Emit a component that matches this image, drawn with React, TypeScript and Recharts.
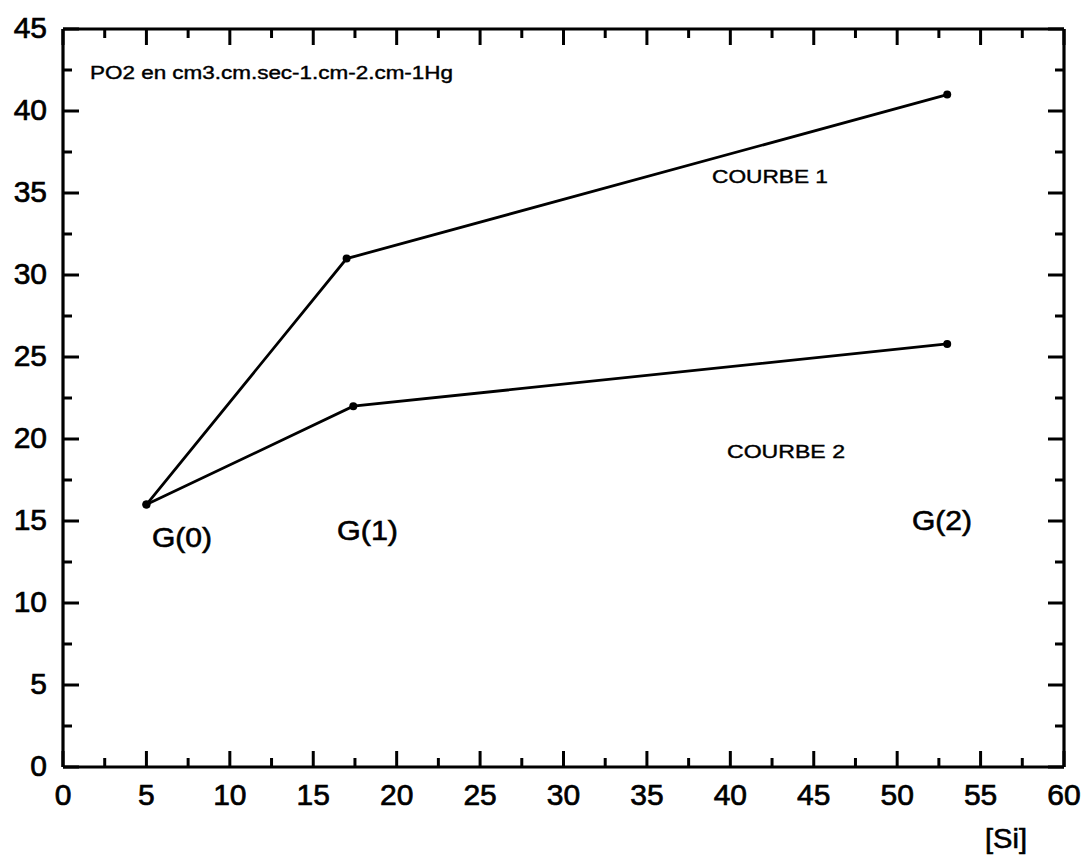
import React from "react";
import { LineChart, Line, XAxis, YAxis } from "recharts";

const courbe1 = [
  { x: 5, y: 16 },
  { x: 17, y: 31 },
  { x: 53, y: 41 },
];
const courbe2 = [
  { x: 5, y: 16 },
  { x: 17.4, y: 22 },
  { x: 53, y: 25.8 },
];

const xTicks = [0, 2.5, 5, 7.5, 10, 12.5, 15, 17.5, 20, 22.5, 25, 27.5, 30, 32.5, 35, 37.5, 40, 42.5, 45, 47.5, 50, 52.5, 55, 57.5, 60];
const yTicks = [0, 2.5, 5, 7.5, 10, 12.5, 15, 17.5, 20, 22.5, 25, 27.5, 30, 32.5, 35, 37.5, 40, 42.5, 45];

const W = 1084;
const H = 858;
const MARGIN = { top: 9, right: 0, bottom: 31, left: 3 };
const TOP_AXIS_H = 20;
const BOTTOM_AXIS_H = 60;
const LEFT_AXIS_W = 60;
const RIGHT_AXIS_W = 20;
const PLOT_W = W - MARGIN.left - MARGIN.right - LEFT_AXIS_W - RIGHT_AXIS_W;
const PLOT_H = H - MARGIN.top - MARGIN.bottom - TOP_AXIS_H - BOTTOM_AXIS_H;

const FONT = "'Liberation Sans', Arial, Helvetica, sans-serif";
const MAJOR = 16;
const MINOR = 9;
const TICK_W = 3;

const isMajor = (v: number) => Math.abs(v % 5) < 1e-9;

// Bottom axis: inward ticks at bottom and mirrored inward ticks at top
const BottomTick = (props: any) => {
  const { x, y, payload } = props;
  const v = payload.value;
  const len = isMajor(v) ? MAJOR : MINOR;
  const yTop = y - PLOT_H;
  return (
    <g>
      <line x1={x} x2={x} y1={y} y2={y - len} stroke="#000" strokeWidth={TICK_W} />
      <line x1={x} x2={x} y1={yTop} y2={yTop + len} stroke="#000" strokeWidth={TICK_W} />
      {isMajor(v) && (
        <text x={x} y={y + 38} textAnchor="middle" fontSize={30} fontFamily={FONT} fill="#000" stroke="#000" strokeWidth={0.7}>
          {v}
        </text>
      )}
    </g>
  );
};

// Left axis: inward ticks at left and mirrored inward ticks at right
const LeftTick = (props: any) => {
  const { x, y, payload } = props;
  const v = payload.value;
  const len = isMajor(v) ? MAJOR : MINOR;
  const xRight = x + PLOT_W;
  return (
    <g>
      <line x1={x} x2={x + len} y1={y} y2={y} stroke="#000" strokeWidth={TICK_W} />
      <line x1={xRight} x2={xRight - len} y1={y} y2={y} stroke="#000" strokeWidth={TICK_W} />
      {isMajor(v) && (
        <text x={x - 16} y={y + 9} textAnchor="end" fontSize={30} fontFamily={FONT} fill="#000" stroke="#000" strokeWidth={0.7}>
          {v}
        </text>
      )}
    </g>
  );
};

const axisLine = { stroke: "#000", strokeWidth: 3.2 };
const dot = { r: 4, fill: "#000", stroke: "#000", strokeWidth: 0 };

export default function App() {
  return (
    <div style={{ position: "absolute", left: 0, top: 0, width: W, height: H, background: "#fff", fontFamily: FONT }}>
      <LineChart width={W} height={H} margin={MARGIN}>
        <XAxis dataKey="x" type="number" domain={[0, 60]} ticks={xTicks} interval={0} height={BOTTOM_AXIS_H} tickSize={0} tickMargin={0} tickLine={false} axisLine={axisLine} tick={BottomTick} />
        <XAxis xAxisId="top" orientation="top" type="number" domain={[0, 60]} height={TOP_AXIS_H} tickLine={false} axisLine={axisLine} tick={false} />
        <YAxis type="number" domain={[0, 45]} ticks={yTicks} interval={0} width={LEFT_AXIS_W} tickSize={0} tickMargin={0} tickLine={false} axisLine={axisLine} tick={LeftTick} />
        <YAxis yAxisId="right" orientation="right" type="number" domain={[0, 45]} width={RIGHT_AXIS_W} tickLine={false} axisLine={axisLine} tick={false} />
        <Line data={courbe1} dataKey="y" stroke="#000" strokeWidth={2.8} dot={dot} activeDot={false} isAnimationActive={false} />
        <Line data={courbe2} dataKey="y" stroke="#000" strokeWidth={2.8} dot={dot} activeDot={false} isAnimationActive={false} />
      </LineChart>
      <svg width={W} height={H} style={{ position: "absolute", left: 0, top: 0, pointerEvents: "none" }}>
        <g fontFamily={FONT} fill="#000" stroke="#000">
          <text x={90} y={79} fontSize={18} strokeWidth={0.4} textLength={363} lengthAdjust="spacingAndGlyphs">PO2 en cm3.cm.sec-1.cm-2.cm-1Hg</text>
          <text x={712} y={183} fontSize={18} strokeWidth={0.4} textLength={116} lengthAdjust="spacingAndGlyphs">COURBE 1</text>
          <text x={727} y={458} fontSize={18} strokeWidth={0.4} textLength={118} lengthAdjust="spacingAndGlyphs">COURBE 2</text>
          <text x={152} y={547} fontSize={27} strokeWidth={0.6} textLength={60} lengthAdjust="spacingAndGlyphs">G(0)</text>
          <text x={337} y={540} fontSize={27} strokeWidth={0.6} textLength={61} lengthAdjust="spacingAndGlyphs">G(1)</text>
          <text x={912} y={530} fontSize={27} strokeWidth={0.6} textLength={60} lengthAdjust="spacingAndGlyphs">G(2)</text>
          <text x={985} y={848} fontSize={27} strokeWidth={0.6} textLength={42} lengthAdjust="spacingAndGlyphs">[Si]</text>
        </g>
      </svg>
    </div>
  );
}
